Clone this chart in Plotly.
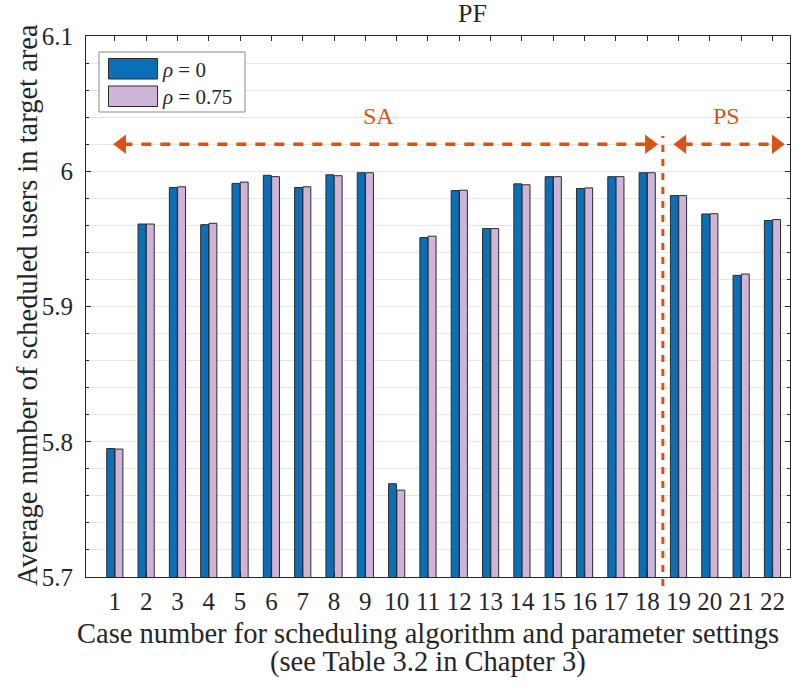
import plotly.graph_objects as go

# Scheduling cases 1..22 and mean number of scheduled users in the target area
cases = list(range(1, 23))
users_rho0 = [5.795, 5.961, 5.988, 5.9605, 5.991, 5.997, 5.988, 5.9974, 5.9989, 5.769,
              5.951, 5.9857, 5.9576, 5.9907, 5.996, 5.9872, 5.996, 5.9989, 5.982, 5.9684,
              5.923, 5.9636]
users_rho075 = [5.7946, 5.961, 5.9885, 5.9615, 5.992, 5.996, 5.9885, 5.9967, 5.9989, 5.7642,
                5.952, 5.986, 5.9576, 5.990, 5.996, 5.9877, 5.996, 5.9989, 5.982, 5.9686,
                5.924, 5.9643]
series_names = ["<i>ρ</i> = 0", "<i>ρ</i> = 0.75"]
y_ticks = [5.7, 5.8, 5.9, 6.0, 6.1]
y_tick_text = ["5.7", "5.8", "5.9", "6", "6.1"]
x_title_lines = ["Case number for scheduling algorithm and parameter settings",
                 "(see Table 3.2 in Chapter 3)"]
y_title = "Average number of scheduled users in target area"

# Group annotations: SA covers cases 1-18, PS covers 19-22
sa_span = [0.94, 18.35]
ps_span = [18.83, 22.4]
split_x = 18.5
arrow_y = 6.02
group_labels = [("SA", 9.42), ("PS", 20.54)]

BLUE = "#0b6fb7"
LILAC = "#cdb4d8"
ORANGE = "#d95319"
EDGE = "#2b2b2b"
TXT = "#262626"
FONT = "Liberation Serif, Times New Roman, serif"
TICK_FS = 25
LABEL_FS = 28.5
LEG_FS = 21

# Plot-area geometry in pixels (used to place paper-referenced decorations)
L, R, T, B = 86, 790, 36, 577
PW, PH = R - L, B - T


def px_x(px):
    return (px - L) / PW


def px_y(py):
    return (B - py) / PH


fig = go.Figure()
fig.add_trace(go.Bar(x=cases, y=users_rho0, name=series_names[0],
                     marker=dict(color=BLUE, line=dict(color=EDGE, width=1)),
                     showlegend=False))
fig.add_trace(go.Bar(x=cases, y=users_rho075, name=series_names[1],
                     marker=dict(color=LILAC, line=dict(color=EDGE, width=1)),
                     showlegend=False))

# Dashed double arrows marking the algorithm groups
for lo, hi in (sa_span, ps_span):
    fig.add_shape(type="line", xref="x", yref="y", x0=lo + 0.3, x1=hi - 0.3,
                  y0=arrow_y, y1=arrow_y, layer="above",
                  line=dict(color=ORANGE, width=3.5, dash="10px,9px"))
    fig.add_trace(go.Scatter(x=[lo + 0.28, hi - 0.28], y=[arrow_y, arrow_y], mode="markers",
                             marker=dict(symbol=["triangle-left", "triangle-right"],
                                         size=17, color=ORANGE, line=dict(width=0)),
                             showlegend=False, hoverinfo="skip", cliponaxis=False))

# Vertical separator between SA and PS cases
fig.add_shape(type="line", xref="x", yref="paper", x0=split_x, x1=split_x,
              y0=px_y(586), y1=px_y(136), layer="above",
              line=dict(color=ORANGE, width=3, dash="7px,7px"))

for txt, xpos in group_labels:
    fig.add_annotation(x=xpos, y=6.041, xref="x", yref="y", text=txt, showarrow=False,
                       font=dict(family=FONT, size=24, color=ORANGE))

# Legend box with wide swatches
fig.add_shape(type="rect", xref="paper", yref="paper",
              x0=px_x(99), x1=px_x(245), y0=px_y(112), y1=px_y(52),
              line=dict(color="#8a8a8a", width=1), fillcolor="white", layer="above")
for i, (name, col) in enumerate(zip(series_names, [BLUE, LILAC])):
    top = 58.5 + i * 27.5
    fig.add_shape(type="rect", xref="paper", yref="paper",
                  x0=px_x(108.5), x1=px_x(157.5), y0=px_y(top + 20.5), y1=px_y(top),
                  line=dict(color=EDGE, width=1), fillcolor=col, layer="above")
    fig.add_annotation(xref="paper", yref="paper", x=px_x(160), y=px_y(top + 11),
                       text=name, showarrow=False, xanchor="left", yanchor="middle",
                       font=dict(family=FONT, size=LEG_FS, color=TXT))

# Axis titles
for line_text, cy in zip(x_title_lines, [633, 662]):
    fig.add_annotation(xref="paper", yref="paper", x=px_x(428), y=px_y(cy), text=line_text,
                       showarrow=False, xanchor="center", yanchor="middle",
                       font=dict(family=FONT, size=LABEL_FS, color=TXT))
fig.add_annotation(xref="paper", yref="paper", x=px_x(27), y=px_y(305), text=y_title,
                   textangle=-90, showarrow=False, xanchor="center", yanchor="middle",
                   font=dict(family=FONT, size=LABEL_FS, color=TXT))

fig.update_layout(
    width=798, height=685,
    margin=dict(l=L, r=798 - R, t=T, b=685 - B),
    paper_bgcolor="white", plot_bgcolor="white",
    barmode="group", bargap=0.47, bargroupgap=0.05,
    font=dict(family=FONT, size=TICK_FS, color=TXT),
    title=dict(text="PF", x=438 / 798, xref="paper", xanchor="center",
               y=1 - 13 / 685, yanchor="middle",
               font=dict(family=FONT, size=26, color=TXT)),
)
fig.update_xaxes(
    range=[0.08, 22.56], tickmode="array", tickvals=cases, ticktext=[str(c) for c in cases],
    ticks="inside", ticklen=5, tickcolor=TXT, showline=True, linecolor=TXT, linewidth=1,
    mirror="ticks", showgrid=False, zeroline=False,
    tickfont=dict(family=FONT, size=TICK_FS, color=TXT), ticklabelstandoff=2,
)
fig.update_yaxes(
    range=[5.7, 6.1], tickmode="array", tickvals=y_ticks, ticktext=y_tick_text,
    ticks="inside", ticklen=5, tickcolor=TXT, showline=True, linecolor=TXT, linewidth=1,
    mirror="ticks", showgrid=True, gridcolor="#e6e6e6", gridwidth=1, zeroline=False,
    minor=dict(dtick=0.02, tick0=5.7, ticks="inside", ticklen=3, tickcolor=TXT,
               showgrid=True, gridcolor="#e6e6e6", gridwidth=1),
    tickfont=dict(family=FONT, size=TICK_FS, color=TXT), ticklabelstandoff=7,
)

fig.write_html("out.html")
